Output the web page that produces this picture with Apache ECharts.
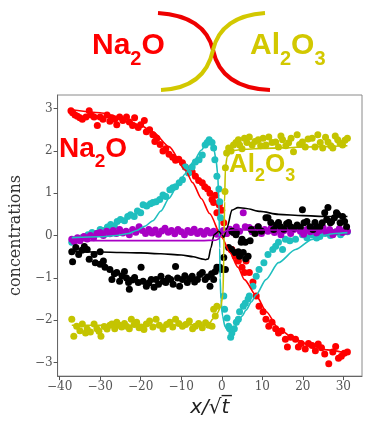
<!DOCTYPE html>
<html><head><meta charset="utf-8">
<script src="https://cdn.jsdelivr.net/npm/echarts@6.0.0/dist/echarts.min.js"></script>
<style>html,body{margin:0;padding:0;background:#fff}#c{width:366px;height:423px}</style>
</head><body><div id="c"></div>
<script>
const xTicks = [-40,-30,-20,-10,0,10,20,30];
const yTicks = [-3,-2,-1,0,1,2,3];

const na2oPts = [[-37.2,2.95],[-36.8,2.9],[-36.2,2.85],[-35.6,2.82],[-35,2.78],[-34.4,2.75],[-33.5,2.8],[-32.7,2.95],[-32.2,2.85],[-31.5,2.8],[-30.7,2.6],[-30,2.8],[-29.3,2.75],[-28.3,2.85],[-27.6,2.7],[-27.1,2.78],[-26.4,2.75],[-25.9,2.62],[-25.2,2.8],[-24.4,2.72],[-23.5,2.8],[-22.8,2.68],[-22,2.6],[-21.5,2.78],[-20.6,2.55],[-20,2.62],[-19.1,2.72],[-18.6,2.45],[-17.8,2.5],[-17,2.38],[-16.5,2.22],[-16,2.3],[-15.2,2.15],[-14.5,2.0],[-13.8,2.05],[-13,1.92],[-12.1,1.85],[-11.4,1.78],[-10.6,1.8],[-9.7,1.72],[-9,1.62],[-8.2,1.55],[-7.3,1.5],[-6.5,1.4],[-5.7,1.3],[-4.8,1.25],[-4.2,1.15],[-3.5,1.1],[-2.9,1.0],[-2.4,0.85],[-2,0.78],[-1.5,0.95],[-1.2,0.54],[-0.6,0.72],[0,0.6],[0.5,0.3],[1.2,0.05],[2.5,-0.33],[3.3,-0.49],[4.1,-0.6],[5,-0.75],[5.6,-0.87],[6,-0.6],[6.8,-0.87],[7.7,-1.1],[8.5,-1.43],[9.2,-1.67],[10.2,-1.8],[10.9,-1.98],[11.6,-2.14],[12.4,-2.05],[13.3,-2.2],[14,-2.3],[14.8,-2.25],[15.7,-2.45],[16.2,-2.63],[17,-2.4],[18.2,-2.45],[18.9,-2.63],[19.6,-2.55],[20.6,-2.68],[21.4,-2.55],[22.3,-2.6],[23.1,-2.72],[23.8,-2.56],[24.6,-2.65],[25.4,-2.8],[26.4,-3.03],[27.4,-2.75],[28.1,-2.62],[28.8,-2.9],[29.5,-2.85],[30.2,-2.78],[31,-2.75]];
const na2oFit = [[-37,2.97],[-30,2.9],[-25,2.8],[-20,2.6],[-17,2.45],[-13,2.1],[-9,1.55],[-7.2,1.25],[-5,0.87],[-3,0.52],[0,-0.04],[2,-0.4],[4,-0.75],[5.6,-1.04],[8.5,-1.42],[11,-1.8],[14,-2.2],[18,-2.45],[22,-2.6],[26,-2.7],[31,-2.78]];

const cyanPts = [[-37,-0.16],[-36,-0.1],[-34.5,-0.05],[-33,0.02],[-32,0.07],[-31,0.05],[-30,0.14],[-29,0.12],[-28.2,0.2],[-27.4,0.26],[-26.5,0.22],[-25.8,0.33],[-25,0.38],[-24,0.35],[-23.2,0.45],[-22.5,0.49],[-21.6,0.45],[-20.8,0.58],[-20,0.54],[-19.4,0.73],[-18.5,0.7],[-17.6,0.75],[-17,0.78],[-16.2,0.8],[-15.3,0.85],[-14.5,0.96],[-13.8,0.92],[-12.8,1.08],[-12.1,1.13],[-11.4,1.15],[-10.5,1.25],[-9.7,1.32],[-9,1.62],[-8.2,1.48],[-7.3,1.62],[-6.5,1.74],[-5.6,1.79],[-4.8,1.9],[-4.1,2.14],[-3.6,2.2],[-3.1,2.26],[-2.4,2.2],[-2,2.07],[-1.7,1.79],[-1.2,1.4],[-0.7,1.1],[-0.5,0.8],[-0.3,0.42],[0.5,-1.43],[0.7,-1.74],[1.3,-1.95],[1.7,-2.14],[2,-2.2],[2.2,-2.4],[2.5,-2.3],[3.1,-2.2],[3.6,-2.05],[4.1,-1.98],[4.4,-1.8],[5.3,-1.67],[5.8,-1.6],[6.5,-1.5],[6.8,-1.43],[7.7,-1.2],[8.5,-0.96],[9.2,-0.8],[10.4,-0.64],[11.4,-0.45],[12.6,-0.33],[13.3,-0.25],[14,-0.16],[15,-0.33],[15.7,-0.09],[16.8,-0.12],[18.2,-0.09],[19.9,0.02],[21,-0.05],[22.3,0.02],[23.4,-0.06],[24.2,-0.02],[25.5,0.05],[26.8,0.0],[28,0.08],[29.3,0.02],[30.2,0.1],[31,0.09]];
const cyanFit = [[-37,-0.05],[-30,-0.03],[-26,0.0],[-23,0.05],[-21,0.12],[-19,0.22],[-17,0.35],[-15,0.58],[-13,0.88],[-11,1.17],[-9,1.46],[-7,1.74],[-5,2.02],[-3.6,2.22],[-2.9,2.3],[-2.4,2.22],[-1.9,2.02],[-1.4,1.78],[-1.0,1.45],[-0.7,0.8],[-0.5,-0.3],[-0.4,-1.0],[-0.2,-1.5],[0.2,-1.9],[0.8,-2.15],[1.5,-2.25],[2.2,-2.28],[3,-2.2],[4,-2.05],[5,-1.9],[6,-1.76],[7.3,-1.57],[8.5,-1.4],[10.9,-1.04],[14,-0.64],[18.2,-0.33],[22.3,-0.09],[24.7,0.0],[28,0.05],[31,0.07]];

const al2o3Pts = [[-37,-1.98],[-36.5,-2.38],[-35.8,-2.14],[-35,-2.25],[-34.4,-2.09],[-33.6,-2.3],[-33.2,-2.21],[-32.4,-2.28],[-31.5,-2.09],[-30.8,-2.2],[-30.3,-2.26],[-29.8,-2.38],[-29,-2.15],[-28.3,-2.21],[-27.6,-2.12],[-27.1,-2.09],[-26.4,-2.2],[-25.9,-2.05],[-25.2,-2.12],[-24.7,-2.16],[-24,-2.08],[-23.5,-2.14],[-22.8,-2.2],[-22.3,-1.98],[-21.6,-2.1],[-21,-2.05],[-20.4,-2.18],[-19.9,-2.16],[-19.2,-2.22],[-18.6,-2.09],[-17.8,-2.02],[-17,-2.16],[-16.2,-1.98],[-15.4,-2.12],[-14.5,-2.21],[-13.6,-2.1],[-12.8,-2.05],[-12.1,-2.16],[-11.4,-1.98],[-10.6,-2.08],[-9.7,-2.14],[-8.9,-2.1],[-8,-2.02],[-7.2,-2.2],[-6.5,-2.14],[-5.7,-2.08],[-4.8,-2.18],[-4,-2.06],[-3.2,-2.12],[-2.4,-2.14],[-2,-1.74],[-1.6,-1.9],[-1.2,-1.67],[0.8,1.04],[0.9,1.6],[1.2,1.95],[1.7,2.07],[2.3,2.0],[2.9,2.14],[3.5,2.2],[4.1,2.26],[4.4,2.14],[5,2.05],[5.6,2.3],[6.2,2.2],[6.8,2.33],[7.5,2.14],[8.2,2.22],[9,2.26],[9.6,2.12],[10.2,2.3],[10.9,2.14],[11.6,2.33],[12.4,2.2],[13.3,2.21],[14,2.09],[14.6,2.35],[15,2.26],[15.8,2.12],[16.5,2.19],[17.1,2.3],[17.7,1.98],[18.6,2.38],[19.2,2.15],[19.9,2.21],[20.6,2.09],[21.3,2.28],[22.3,2.3],[23,2.09],[23.7,2.38],[24.3,2.2],[24.9,2.07],[25.6,2.32],[26.2,2.21],[26.9,2.12],[27.4,2.07],[28,2.35],[28.6,2.26],[29.2,2.18],[29.8,2.14],[30.4,2.25],[31,2.3]];
const al2o3Fit = [[-37,-2.12],[-20,-2.12],[-8,-2.11],[-4,-2.09],[-3,-2.07],[-2.3,-1.98],[-1.2,-1.85],[-0.3,-1.7],[0.3,-1.4],[0.5,-0.5],[0.7,0.8],[0.9,1.6],[1.3,1.85],[2,1.96],[3,2.01],[6,2.04],[10,2.06],[15,2.07],[20,2.09],[25,2.1],[31,2.12]];

const blackPts = [[-37,-0.38],[-36.8,-0.62],[-36,-0.28],[-35.3,-0.45],[-34.5,-0.35],[-33.9,-0.26],[-33.2,-0.33],[-32.7,-0.56],[-31.5,-0.45],[-31.2,-0.64],[-30,-0.38],[-30,-0.68],[-29.2,-0.6],[-28.8,-0.75],[-27.6,-0.8],[-27.1,-1.04],[-26.5,-0.9],[-25.9,-0.87],[-25.2,-1.08],[-24.6,-0.95],[-24,-0.85],[-23.5,-1.0],[-23,-1.11],[-22.8,-1.27],[-22.1,-1.05],[-21.5,-0.99],[-20.6,-1.11],[-19.9,-0.75],[-19.4,-1.08],[-18.6,-1.2],[-18,-1.12],[-17.4,-1.04],[-16.7,-1.22],[-16.2,-1.04],[-15.6,-1.15],[-15,-0.96],[-14.4,-1.08],[-13.8,-1.11],[-13.2,-1.0],[-12.6,-1.04],[-12,-1.15],[-11.4,-0.73],[-10.9,-1.0],[-10.4,-1.2],[-9.7,-1.04],[-9.1,-0.95],[-8.5,-1.11],[-7.9,-1.02],[-7.3,-0.96],[-6.7,-1.1],[-6,-1.04],[-5.4,-0.92],[-4.8,-0.87],[-4.1,-1.04],[-3.5,-0.98],[-2.9,-1.2],[-2.5,-0.9],[-2,-1.04],[-1.6,-0.85],[-1.2,-0.75],[-0.5,-0.75],[0,-0.8],[0.5,-0.52],[0.9,-0.8],[1.7,-0.28],[2.4,-0.33],[2.5,0.1],[2.9,0.07],[3.1,-0.4],[3.5,0.02],[3.6,0.07],[4.1,-0.38],[4.4,-0.49],[4.8,-0.16],[5,-0.09],[5.3,-0.4],[5.8,-0.16],[5.9,-0.55],[6.5,-0.49],[7,-0.12],[7.3,0.14],[8.2,0.05],[9,0.21],[9.8,0.1],[10.9,0.42],[11.4,0.42],[12.1,0.31],[12.8,0.14],[13.5,0.25],[14,0.31],[14.5,0.21],[15.3,0.15],[16,0.28],[16.5,0.31],[17,0.21],[17.8,0.18],[18.6,0.25],[19.4,0.19],[19.9,0.61],[20.3,0.3],[21,0.33],[21.8,0.21],[22.5,0.14],[23,0.31],[23.6,0.2],[24.2,0.21],[24.8,0.3],[25.4,0.54],[25.9,0.38],[26.2,0.66],[26.8,0.3],[27.1,0.33],[27.8,0.42],[28.3,0.54],[28.6,0.5],[29.2,0.3],[29.8,0.45],[30.3,0.33],[30.8,0.21]];
const blackFit = [[-37,-0.38],[-30,-0.39],[-25,-0.4],[-20,-0.41],[-15,-0.43],[-10,-0.46],[-7,-0.5],[-5,-0.55],[-4,-0.57],[-3.3,-0.55],[-2.7,-0.3],[-1.9,0.02],[-0.7,0.1],[0,0.02],[0.5,-0.04],[1.3,0.18],[2.5,0.6],[4,0.66],[6,0.64],[9.5,0.57],[14,0.5],[20,0.47],[26,0.45],[31,0.45]];

const purplePts = [[-37,-0.09],[-36.4,-0.14],[-35.6,-0.05],[-35,-0.12],[-34,-0.02],[-33.2,-0.08],[-32.4,0.0],[-31.6,-0.05],[-30.8,0.05],[-30,0.07],[-29.2,0.0],[-28.4,0.1],[-27.6,0.04],[-26.8,0.12],[-26,0.05],[-25.2,0.14],[-24.4,0.06],[-23.6,0.1],[-22.8,0.02],[-22,0.14],[-21.2,0.08],[-20.4,0.21],[-19.6,0.12],[-18.8,0.05],[-18,0.14],[-17.2,0.06],[-16.4,0.13],[-15.6,0.03],[-14.8,0.11],[-14,0.17],[-13.2,0.08],[-12.4,0.12],[-11.6,0.04],[-10.8,0.14],[-10,0.09],[-9.2,0.02],[-8.4,0.12],[-7.6,0.07],[-6.8,0.15],[-6,0.05],[-5.2,0.1],[-4.4,0.03],[-3.6,0.12],[-2.8,0.06],[-2,0.1],[-1.2,0.03],[-0.4,0.08],[0.4,0.12],[1.2,0.05],[2,0.15],[2.8,0.08],[3.6,0.2],[4.4,0.1],[5.3,0.54],[5.8,0.21],[6.8,0.19],[7.5,0.09],[8.2,0.15],[9,0.21],[9.8,0.05],[10.6,0.14],[11.4,0.1],[12.2,0.18],[13,0.07],[13.8,0.14],[14.6,0.02],[15.4,0.12],[16.2,0.16],[17,0.05],[17.8,0.14],[18.6,0.2],[19.4,0.1],[20.2,0.03],[21,0.14],[21.8,0.09],[22.6,0.17],[23.4,0.06],[24.2,0.12],[25,0.19],[25.8,0.08],[26.6,0.14],[27.4,0.02],[28.2,0.09],[29,0.16],[29.8,0.07],[30.6,0.14],[31,0.1]];
const purpleFit = [[-37,-0.12],[-20,-0.12],[-5,-0.12],[-1.5,-0.11],[-0.8,-0.08],[-0.2,0.0],[0.5,0.08],[1.2,0.12],[3,0.13],[10,0.13],[31,0.12]];

const RED = '#ff0000', CYAN = '#1fbfbf', YEL = '#c4c400', BLK = '#000000', PUR = '#a800c4';
const TITLE_YEL = '#d2c800';

function pts(data, color){
  return {type:'scatter', data, symbolSize:7, itemStyle:{color, opacity:1}, z:2, silent:true};
}
function fit(data, color){
  return {type:'line', data, symbol:'none', smooth:0.25, smoothMonotone:'x', lineStyle:{color, width:1.6}, z:3, silent:true};
}
function formula(a, b, c, size, sub, color, left, top){
  const txt = '{n|'+a+'}{s|'+b+'}{n|'+c+'}' + (sub ? '{s|'+sub+'}' : '');
  const lh = size + 4;
  return {type:'text', left, top, z:10, style:{text:txt, fill:color,
    rich:{n:{fontSize:size, fontWeight:'bold', fontFamily:'Liberation Sans', fill:color, lineHeight:lh},
          s:{fontSize:Math.round(size*0.68), fontWeight:'bold', fontFamily:'Liberation Sans', fill:color, padding:[Math.round(size*0.85),0,0,0], lineHeight:lh}}}};
}
const negFmt = v => String(v).replace('-', '\u2212');

const chart = echarts.init(document.getElementById('c'), null, {renderer:'canvas'});
chart.setOption({
  animation:false,
  backgroundColor:'#ffffff',
  grid:{left:53, top:95, width:309, height:282, show:true, borderColor:'#8a8a8a', borderWidth:1, containLabel:false},
  xAxis:{type:'value', min:-40.5, max:34.6,
    name:'x/\u221At\u0305', nameLocation:'middle', nameGap:20,
    nameTextStyle:{fontFamily:'DejaVu Sans', fontStyle:'italic', fontSize:20, color:'#222'},
    axisLine:{show:true, onZero:false, lineStyle:{color:'#666', width:1}},
    axisTick:{show:true, inside:false, length:4, customValues:xTicks, lineStyle:{color:'#555'}},
    axisLabel:{customValues:xTicks, formatter:negFmt, margin:5, fontFamily:'DejaVu Serif', fontSize:12, color:'#555'},
    splitLine:{show:false}},
  yAxis:{type:'value', min:-3.32, max:3.32,
    name:'concentrations', nameLocation:'middle', nameGap:25, nameRotate:90,
    nameTextStyle:{fontFamily:'DejaVu Serif', fontSize:16, color:'#333'},
    axisLine:{show:true, onZero:false, lineStyle:{color:'#666', width:1}},
    axisTick:{show:true, inside:false, length:4, customValues:yTicks, lineStyle:{color:'#555'}},
    axisLabel:{customValues:yTicks, formatter:negFmt, margin:5, fontFamily:'DejaVu Serif', fontSize:12, color:'#555'},
    splitLine:{show:false}},
  series:[
    pts(na2oPts, RED), pts(cyanPts, CYAN), pts(al2o3Pts, YEL), pts(purplePts, PUR), pts(blackPts, BLK),
    fit(na2oFit, RED), fit(cyanFit, CYAN), fit(al2o3Fit, YEL), fit(blackFit, BLK), fit(purpleFit, PUR)
  ],
  graphic:[
    {type:'bezierCurve', z:5, shape:{x1:158,y1:13,cpx1:205,cpy1:16,x2:213,y2:50}, style:{stroke:'#ee0000', lineWidth:4, fill:null}},
    {type:'bezierCurve', z:5, shape:{x1:213,y1:50,cpx1:221,cpy1:88,x2:270,y2:90}, style:{stroke:'#ee0000', lineWidth:4, fill:null}},
    {type:'bezierCurve', z:6, shape:{x1:265,y1:13,cpx1:221,cpy1:16,x2:213,y2:50}, style:{stroke:TITLE_YEL, lineWidth:4, fill:null}},
    {type:'bezierCurve', z:6, shape:{x1:213,y1:50,cpx1:205,cpy1:88,x2:161,y2:90}, style:{stroke:TITLE_YEL, lineWidth:4, fill:null}},
    formula('Na','2','O',30,null,'#ff0000',92,23),
    formula('Al','2','O',30,'3',TITLE_YEL,250,23),
    formula('Na','2','O',28,null,'#ff0000',59,128),
    formula('Al','2','O',26,'3',TITLE_YEL,229,145)
  ]
});
</script></body></html>
